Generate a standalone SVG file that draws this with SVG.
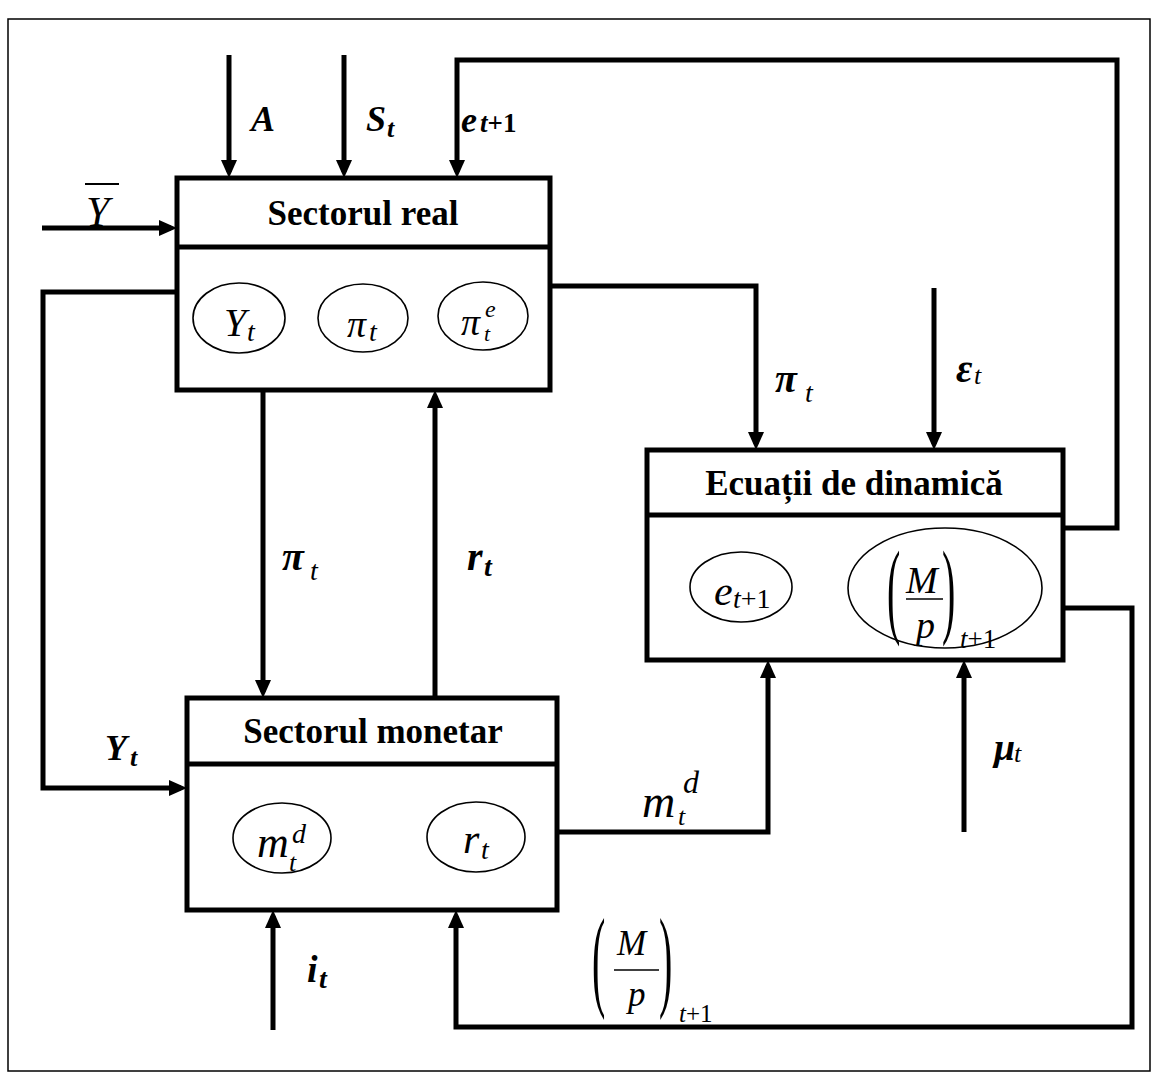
<svg xmlns="http://www.w3.org/2000/svg" width="1153" height="1078" viewBox="0 0 1153 1078">
<defs>
<marker id="ah" markerUnits="userSpaceOnUse" markerWidth="18" markerHeight="16" refX="12" refY="8" orient="auto"><path d="M0,0 L18,8 L0,16 z" fill="#000"/></marker>
</defs>
<style>
.frame{fill:none;stroke:#000;stroke-width:1.5}
.box{fill:#fff;stroke:#000;stroke-width:5}
.div{stroke:#000;stroke-width:5}
.ell{fill:none;stroke:#000;stroke-width:1.6}
.title{font-family:"Liberation Serif",serif;font-weight:bold;font-size:35px;text-anchor:middle}
.m{font-family:"Liberation Serif",serif;font-style:italic}
.lb{font-family:"Liberation Serif",serif;font-style:italic;font-weight:bold}
.up{font-style:normal}
.par{font-family:"Liberation Serif",serif;font-style:normal;font-size:40px}
.c{fill:none;stroke:#000;stroke-width:5;marker-end:url(#ah)}
.bar{stroke:#000;stroke-width:1.6}
</style>
<rect class="frame" x="8" y="19" width="1142" height="1052"/>

<g id="connectors">
<path class="c" d="M229,55 V172"/>
<path class="c" d="M344,55 V172"/>
<path class="c" d="M1063,528 H1117 V60 H457 V172"/>
<path class="c" d="M42,228 H171"/>
<path class="c" d="M177,292 H43 V788 H181"/>
<path class="c" d="M550,286 H756 V444"/>
<path class="c" d="M934,288 V444"/>
<path class="c" d="M263,390 V692"/>
<path class="c" d="M435,698 V396"/>
<path class="c" d="M557,832 H768 V666"/>
<path class="c" d="M964,832 V666"/>
<path class="c" d="M1063,608 H1132 V1027 H456 V916"/>
<path class="c" d="M273,1030 V916"/>
</g>

<g id="labels">
<text class="lb" x="251" y="131" font-size="36">A</text>
<text class="lb" font-size="36"><tspan x="366" y="131">S</tspan><tspan x="387" y="137" font-size="26">t</tspan></text>
<text class="lb" font-size="36"><tspan x="461" y="132">e</tspan><tspan x="480" y="132" font-size="27">t</tspan><tspan class="up" font-size="27">+1</tspan></text>
<text class="m" x="86" y="226" font-size="42">Y</text>
<line class="bar" x1="85" y1="184" x2="119" y2="184" style="stroke-width:2"/>
<text class="lb" font-size="36"><tspan x="105" y="760">Y</tspan><tspan x="130" y="766" font-size="26">t</tspan></text>
<text class="lb" font-size="40"><tspan x="775" y="392">π</tspan><tspan x="805" y="402" font-size="28" font-weight="normal">t</tspan></text>
<text class="lb" font-size="40"><tspan x="956" y="382">ε</tspan><tspan x="974" y="384" font-size="26" font-weight="normal">t</tspan></text>
<text class="lb" font-size="40"><tspan x="282" y="570">π</tspan><tspan x="310" y="580" font-size="28" font-weight="normal">t</tspan></text>
<text class="lb" font-size="40"><tspan x="467" y="570">r</tspan><tspan x="484" y="576" font-size="28">t</tspan></text>
<text class="m" font-size="46"><tspan x="642" y="817">m</tspan><tspan x="683" y="793" font-size="32">d</tspan><tspan x="678" y="825" font-size="26">t</tspan></text>
<text class="lb" font-size="38"><tspan x="994" y="760">μ</tspan><tspan x="1014" y="762" font-size="26" font-weight="normal">t</tspan></text>
<text class="lb" font-size="38"><tspan x="307" y="982">i</tspan><tspan x="319" y="988" font-size="28">t</tspan></text>
<g id="frac-bottom">
<text class="par" transform="translate(592,996) scale(1,2.8)">(</text>
<text class="par" transform="translate(659,996) scale(1,2.8)">)</text>
<text class="m" x="617" y="955" font-size="35">M</text>
<line class="bar" x1="614" y1="970" x2="659" y2="970"/>
<text class="m" x="628" y="1006" font-size="35">p</text>
<text class="m" font-size="25"><tspan x="679" y="1022">t</tspan><tspan class="up">+1</tspan></text>
</g>
</g>

<g id="sectorul-real">
<rect class="box" x="177" y="178" width="373" height="212"/>
<line class="div" x1="177" y1="247" x2="550" y2="247"/>
<text class="title" x="363" y="225">Sectorul real</text>
<ellipse class="ell" cx="239" cy="318" rx="46" ry="35"/>
<ellipse class="ell" cx="363" cy="318" rx="45" ry="34"/>
<ellipse class="ell" cx="483" cy="316" rx="45" ry="34"/>
<text class="m" font-size="40"><tspan x="224" y="336">Y</tspan><tspan x="247" y="341" font-size="28">t</tspan></text>
<text class="m" font-size="38"><tspan x="347" y="337">π</tspan><tspan x="369" y="341" font-size="28">t</tspan></text>
<text class="m" font-size="38"><tspan x="461" y="335">π</tspan><tspan x="485" y="317" font-size="24">e</tspan><tspan x="484" y="341" font-size="22">t</tspan></text>
</g>

<g id="sectorul-monetar">
<rect class="box" x="187" y="698" width="370" height="212"/>
<line class="div" x1="187" y1="764" x2="557" y2="764"/>
<text class="title" x="373" y="743">Sectorul monetar</text>
<ellipse class="ell" cx="282" cy="838" rx="49" ry="35"/>
<ellipse class="ell" cx="476" cy="837" rx="49" ry="35"/>
<text class="m" font-size="44"><tspan x="257" y="857">m</tspan><tspan x="292" y="843" font-size="28">d</tspan><tspan x="289" y="871" font-size="26">t</tspan></text>
<text class="m" font-size="42"><tspan x="463" y="853">r</tspan><tspan x="481" y="859" font-size="28">t</tspan></text>
</g>

<g id="ecuatii-de-dinamica">
<rect class="box" x="647" y="450" width="416" height="210"/>
<line class="div" x1="647" y1="515" x2="1063" y2="515"/>
<text class="title" x="854" y="495">Ecuații de dinamică</text>
<ellipse class="ell" cx="741" cy="587" rx="51" ry="35"/>
<ellipse class="ell" cx="945" cy="588" rx="97" ry="60"/>
<text class="m" font-size="42"><tspan x="714" y="605">e</tspan><tspan x="733" y="608" font-size="28">t</tspan><tspan class="up" font-size="28">+1</tspan></text>
<text class="par" transform="translate(887,624) scale(1,2.65)">(</text>
<text class="par" transform="translate(942,624) scale(1,2.65)">)</text>
<text class="m" x="906" y="593" font-size="38">M</text>
<line class="bar" x1="906" y1="599" x2="943" y2="599"/>
<text class="m" x="916" y="638" font-size="38">p</text>
<text class="m" font-size="27"><tspan x="960" y="648">t</tspan><tspan class="up">+1</tspan></text>
</g>
</svg>
